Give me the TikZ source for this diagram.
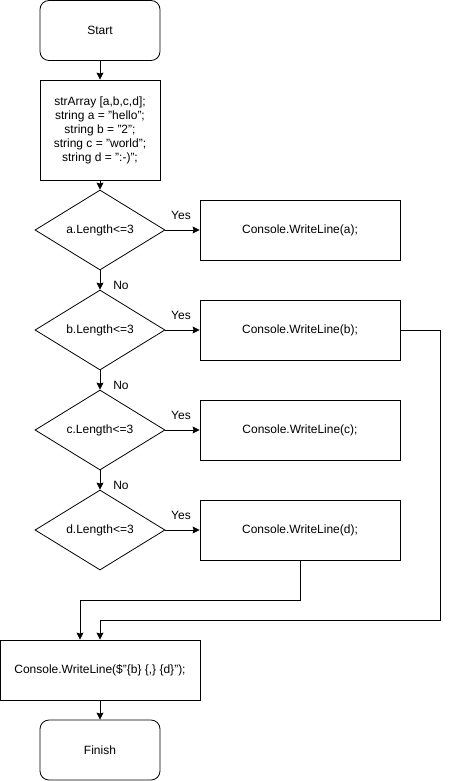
\documentclass[tikz,border=0pt]{standalone}
\usepackage{fontspec}
\setmainfont{Liberation Sans}
\usetikzlibrary{arrows.meta,shapes.geometric,positioning}
\tikzstyle{startstop} = [rectangle, rounded corners=9pt, minimum width=120pt, minimum height=60pt, text centered, draw=black, line width=0.8pt]
\tikzstyle{process} = [rectangle, minimum width=120pt, minimum height=100pt, align=center, draw=black, line width=0.8pt]
\tikzstyle{decision} = [diamond, aspect=1.625, minimum width=130pt, minimum height=80pt, inner sep=0pt, text centered, draw=black, line width=0.8pt]
\tikzstyle{output} = [rectangle, minimum width=200pt, minimum height=60pt, text centered, draw=black, line width=0.8pt]
\tikzstyle{arrow} = [line width=0.8pt,-{Stealth[length=7pt,width=7pt,inset=1pt]}]

\begin{document}
\begin{tikzpicture}[x=1pt,y=-1pt,font=\fontsize{12}{14}\selectfont]
\useasboundingbox (0,0) rectangle (449,781);
%main column
\draw (100,30.5) node (start) [startstop] {Start};
\draw (100,130) node (init) [process] {strArray [a,b,c,d];\\string a = "hello";\\string b = "2";\\string c = "world";\\string d = ":-)";};
\draw (100,230) node (da) [decision] {a.Length<=3};
\draw (100,330) node (db) [decision] {b.Length<=3};
\draw (100,430) node (dc) [decision] {c.Length<=3};
\draw (100,530) node (dd) [decision] {d.Length<=3};
\draw (100,670) node (res) [output] {Console.WriteLine(\$"\{b\} \{,\} \{d\}");};
\draw (100,750) node (finish) [startstop] {Finish};
%right column
\draw (300,230) node (wa) [output] {Console.WriteLine(a);};
\draw (300,330) node (wb) [output] {Console.WriteLine(b);};
\draw (300,430) node (wc) [output] {Console.WriteLine(c);};
\draw (300,530) node (wd) [output] {Console.WriteLine(d);};
%arrows
\draw[arrow] (start) -- (init);
\draw[arrow] (init) -- (da);
\draw[arrow] (da) -- (wa);
\draw[arrow] (da) -- (db);
\draw[arrow] (db) -- (wb);
\draw[arrow] (db) -- (dc);
\draw[arrow] (dc) -- (wc);
\draw[arrow] (dc) -- (dd);
\draw[arrow] (dd) -- (wd);
\draw[arrow] (wb.east) -| (440,620) -| (res.north);
\draw[arrow] (wd.south) |- (80,600) -| ([xshift=-20pt]res.north);
\draw[arrow] (res) -- (finish);
%labels
\node (ya) at (181,215) {Yes};
\node (yb) at (181,315) {Yes};
\node (yc) at (181,415) {Yes};
\node (yd) at (181,515) {Yes};
\node (na) at (121,285) {No};
\node (nb) at (121,385) {No};
\node (nc) at (121,485) {No};
\end{tikzpicture}
\end{document}
